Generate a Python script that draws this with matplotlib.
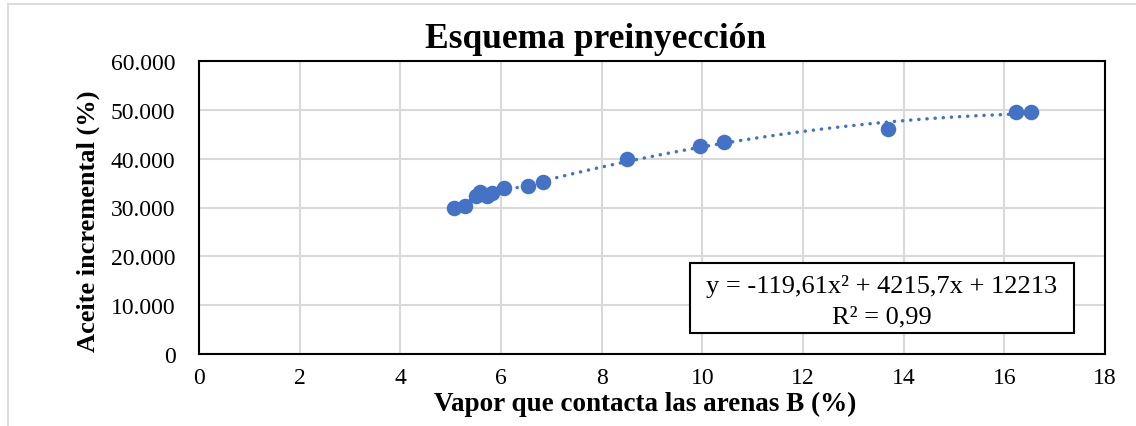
import numpy as np
import matplotlib
matplotlib.use("Agg")
import matplotlib.pyplot as plt
from matplotlib.ticker import FuncFormatter, MultipleLocator
from matplotlib.lines import Line2D
from matplotlib.patches import Rectangle

plt.rcParams['font.family'] = ['Liberation Serif', 'DejaVu Serif']

# data
vapor = [5.07, 5.28, 5.50, 5.58, 5.73, 5.82, 6.05, 6.53, 6.84,
         8.50, 9.95, 10.44, 13.68, 16.23, 16.52]
aceite = [29900, 30300, 32300, 33240, 32420, 32900, 33930, 34340, 35160,
          39930, 42660, 43480, 46080, 49500, 49620]
coef = [-119.61, 4215.7, 12213]   # polynomial trendline (order 2)
eq_lines = ["y = -119,61x² + 4215,7x + 12213", "R² = 0,99"]

blue = '#4472C4'
grid_c = '#d9d9d9'
W, H = 1136, 427
x0, x1, y0, y1 = 199, 1105, 355, 62   # plot area in pixels

fig = plt.figure(figsize=(W/100, H/100), dpi=100)
ax = fig.add_axes([x0/W, 1 - y0/H, (x1 - x0)/W, (y0 - y1)/H])

def ax_x(px):
    return (px - x0)/(x1 - x0)

def ax_y(py):
    return (y0 - py)/(y0 - y1)

# outer chart border (left + top visible)
fig.add_artist(Line2D([8/W, 8/W], [0, 1 - 5/H], transform=fig.transFigure,
                      color=grid_c, lw=1.3))
fig.add_artist(Line2D([8/W, 1], [1 - 5/H, 1 - 5/H], transform=fig.transFigure,
                      color=grid_c, lw=1.3))

xs = np.linspace(min(vapor), max(vapor), 200)
ax.plot(xs, np.polyval(coef, xs), color=blue, lw=2.5,
        linestyle=(0, (0.05, 2.3)), dash_capstyle='round', zorder=2)
ax.scatter(vapor, aceite, s=125, color=blue, zorder=3, linewidths=0)

ax.set_xlim(0, 18)
ax.set_ylim(0, 60000)
ax.xaxis.set_major_locator(MultipleLocator(2))
ax.yaxis.set_major_locator(MultipleLocator(10000))
ax.yaxis.set_major_formatter(FuncFormatter(lambda v, p: f"{int(v):,}".replace(',', '.')))
ax.grid(True, color=grid_c, lw=1.5)
ax.set_axisbelow(True)
ax.tick_params(axis='y', length=0, labelsize=17, pad=17)
ax.tick_params(axis='x', length=0, labelsize=17, pad=9)
for s in ax.spines.values():
    s.set_linewidth(1.5)
    s.set_color('black')

ax.set_xlabel("Vapor que contacta las arenas B (%)", fontsize=19.5, fontweight='bold',
              va='center')
ax.xaxis.set_label_coords(ax_x(645), ax_y(404))
ax.set_ylabel("Aceite incremental (%)", fontsize=19, fontweight='bold', va='center')
ax.yaxis.set_label_coords(ax_x(88), ax_y(221))
ax.text(ax_x(596), ax_y(40), "Esquema preinyección", transform=ax.transAxes,
        ha='center', va='center', fontsize=25.5, fontweight='bold')

# trendline equation box
ax.add_patch(Rectangle((ax_x(690), ax_y(334)), ax_x(1074) - ax_x(690), ax_y(264) - ax_y(334),
                       transform=ax.transAxes, facecolor='white', edgecolor='black',
                       lw=1.5, zorder=4))
ax.text(ax_x(882), ax_y(293), eq_lines[0], transform=ax.transAxes, ha='center',
        va='baseline', fontsize=19, zorder=5)
ax.text(ax_x(882), ax_y(323), eq_lines[1], transform=ax.transAxes, ha='center',
        va='baseline', fontsize=19, zorder=5)

fig.savefig("out.png", dpi=100)
